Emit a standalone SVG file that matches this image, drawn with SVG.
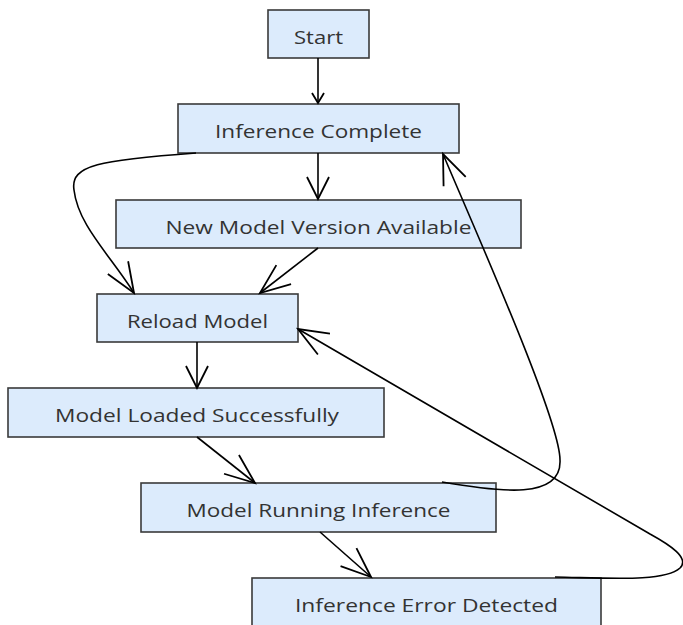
<svg xmlns="http://www.w3.org/2000/svg" width="683" height="625" viewBox="0 0 683 625">
<style>
.node rect{fill:#dcebfc;stroke:#3a3a3a;stroke-width:1.6}
.node text{font-family:"Open Sans","Noto Sans","Liberation Sans",sans-serif;font-size:19px;fill:#333;text-anchor:middle}
.edge{fill:none;stroke:#000;stroke-width:1.6}
</style>
<defs>
<marker id="al" markerUnits="userSpaceOnUse" viewBox="0 0 32 26" markerWidth="32" markerHeight="26" refX="31" refY="13" orient="auto" overflow="visible"><path d="M1,1 L31,13 L1,25" fill="none" stroke="#000" stroke-width="1.8"/></marker>
<marker id="am" markerUnits="userSpaceOnUse" viewBox="0 0 24 24" markerWidth="24" markerHeight="24" refX="23" refY="12" orient="auto" overflow="visible"><path d="M1,1 L23,12 L1,23" fill="none" stroke="#000" stroke-width="1.8"/></marker>
<marker id="as" markerUnits="userSpaceOnUse" viewBox="0 0 12 14" markerWidth="12" markerHeight="14" refX="11" refY="7" orient="auto" overflow="visible"><path d="M1,1 L11,7 L1,13" fill="none" stroke="#000" stroke-width="1.8"/></marker>
</defs>
<rect width="683" height="625" fill="#fff"/>
<g id="start" class="node"><rect x="268" y="10" width="101" height="48"/><text x="318.5" y="44" textLength="49" lengthAdjust="spacingAndGlyphs">Start</text></g>
<g id="inference-complete" class="node"><rect x="178" y="104" width="281" height="49"/><text x="318.5" y="138" textLength="207" lengthAdjust="spacingAndGlyphs">Inference Complete</text></g>
<g id="new-model-version" class="node"><rect x="116" y="200" width="405" height="48"/><text x="318.5" y="234" textLength="306" lengthAdjust="spacingAndGlyphs">New Model Version Available</text></g>
<g id="reload-model" class="node"><rect x="97" y="294" width="201" height="48"/><text x="197.5" y="328" textLength="141" lengthAdjust="spacingAndGlyphs">Reload Model</text></g>
<g id="model-loaded" class="node"><rect x="8" y="388" width="376" height="49"/><text x="197" y="422" textLength="284" lengthAdjust="spacingAndGlyphs">Model Loaded Successfully</text></g>
<g id="model-running" class="node"><rect x="141" y="483" width="355" height="49"/><text x="318.5" y="517" textLength="264" lengthAdjust="spacingAndGlyphs">Model Running Inference</text></g>
<g id="inference-error" class="node"><rect x="252" y="578" width="349" height="49"/><text x="426.5" y="612" textLength="263" lengthAdjust="spacingAndGlyphs">Inference Error Detected</text></g>
<g id="connectors">
<path class="edge" d="M318,58 L318,103" marker-end="url(#as)"/>
<path class="edge" d="M318,153 L318,199" marker-end="url(#am)"/>
<path class="edge" d="M196,153 C100,160 70,165 74,190 C78,225 110,255 134,293" marker-end="url(#al)"/>
<path class="edge" d="M318,248 L260,293" marker-end="url(#al)"/>
<path class="edge" d="M197,437 L255,483" marker-end="url(#al)"/>
<path class="edge" d="M197,342 L197,388" marker-end="url(#am)"/>
<path class="edge" d="M320,532 L371,577" marker-end="url(#al)"/>
<path class="edge" d="M442,482 C500,492 562,500 560,460 C560,420 475,230 443,154" marker-end="url(#al)"/>
<path class="edge" d="M555,577 C610,578 665,582 680,568 C690,558 670,545 650,534 L298,329" marker-end="url(#al)"/>
</g>
</svg>
